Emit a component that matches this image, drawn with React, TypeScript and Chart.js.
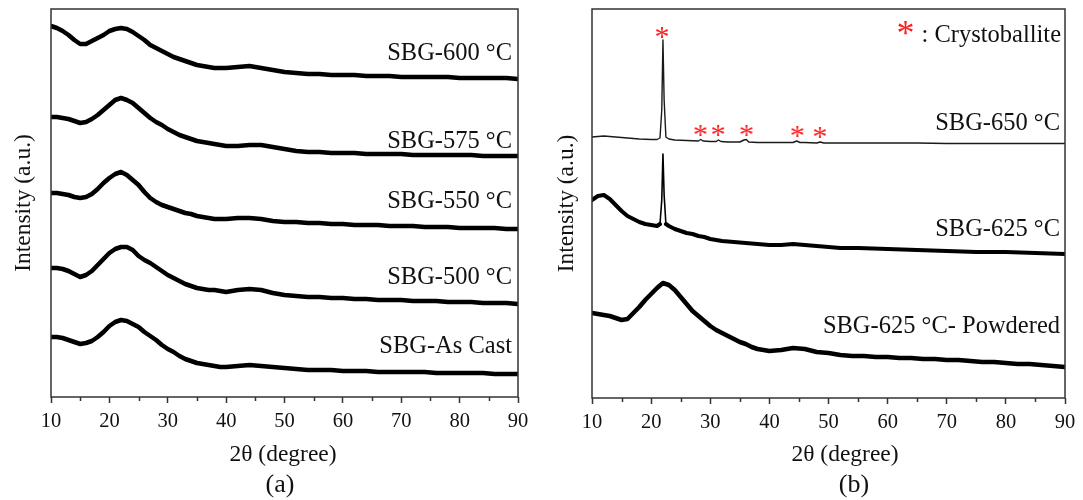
import React, { useEffect, useRef } from 'react';
import { Chart, registerables } from 'chart.js';

Chart.register(...registerables);

// ---------- data ----------
const anglesBroad = [
  10, 11, 12, 13, 14, 15, 16, 17, 18, 19, 20, 21, 22, 23, 24, 25, 26, 27, 28, 29, 30,
  31, 32, 33, 34, 35, 36, 37, 38, 39, 40, 42, 44, 46, 48, 50, 52, 54, 56, 58, 60, 62,
  64, 66, 68, 70, 72, 74, 76, 78, 80, 82, 84, 86, 88, 90,
];

const sbg600 = [
  371, 369, 366, 362, 357, 353, 353, 356, 359, 362, 366, 368, 369, 368, 365, 361, 357, 352, 349, 346, 343,
  340, 338, 336, 334, 332, 331, 330, 329, 329, 329, 330, 331, 329, 327, 325, 324, 323, 323, 322, 322, 322,
  321, 321, 321, 320, 320, 320, 320, 320, 319, 319, 319, 319, 319, 318,
];
const sbg575 = [
  280, 280, 279, 278, 276, 274, 275, 278, 282, 287, 292, 297, 299, 297, 294, 289, 284, 279, 275, 272, 268,
  265, 262, 260, 258, 256, 255, 254, 253, 252, 251, 251, 252, 252, 250, 248, 246, 245, 245, 244, 244, 244,
  243, 243, 243, 243, 242, 242, 242, 242, 242, 242, 241, 241, 241, 241,
];
const sbg550 = [
  204, 204, 203, 202, 200, 199, 200, 203, 208, 214, 219, 223, 225, 222, 217, 212, 205, 199, 195, 192, 190,
  188, 186, 184, 183, 181, 180, 179, 178, 178, 178, 179, 179, 178, 176, 175, 175, 174, 174, 173, 173, 172,
  172, 172, 171, 171, 171, 170, 170, 170, 169, 169, 169, 169, 168, 168,
];
const sbg500 = [
  129, 129, 128, 126, 123, 120, 122, 126, 132, 138, 144, 148, 150, 150, 147, 141, 137, 134, 130, 126, 122,
  119, 116, 113, 111, 109, 108, 107, 107, 106, 105, 107, 108, 107, 104, 102, 101, 100, 100, 99, 99, 98,
  98, 97, 97, 97, 96, 96, 96, 95, 95, 95, 94, 94, 94, 93,
];
const sbgAsCast = [
  60, 60, 59, 57, 55, 53, 54, 56, 60, 65, 71, 75, 77, 76, 73, 70, 65, 61, 57, 52, 48,
  45, 41, 38, 36, 34, 33, 32, 31, 30, 30, 31, 32, 31, 30, 29, 28, 27, 27, 27, 26, 26,
  26, 25, 25, 25, 25, 25, 24, 24, 24, 24, 24, 23, 23, 23,
];

const angles650 = [
  10, 12, 14, 16, 18, 20, 21, 21.5, 21.8, 22.0, 22.2, 22.5, 23, 24, 26, 28, 28.4, 28.8, 30, 31, 31.4,
  31.8, 33, 35, 35.7, 36.1, 36.5, 38, 40, 42, 44, 44.6, 45.2, 46, 48, 48.6, 49.2, 50, 55, 60, 65, 70,
  75, 80, 85, 90,
];
const sbg650 = [
  261, 262, 261, 260, 259, 258.5, 258.5, 260, 288, 358, 298, 261, 259, 258, 257.5, 257, 258.5, 257, 256.5, 256.5, 258,
  256.5, 256, 256, 258, 258.5, 256, 255.5, 255.5, 255.5, 255.5, 257, 255.5, 255.5, 255, 256, 255, 255, 255, 255, 255, 254.5,
  254.5, 254.5, 254.5, 254.5,
];

const angles625 = [
  10, 11, 12, 13, 14, 15, 16, 17, 18, 19, 20, 21, 21.5, 21.8, 22.0, 22.2, 22.5, 23, 24, 25, 26, 27, 28,
  29, 30, 32, 34, 36, 38, 40, 42, 44, 46, 48, 50, 52, 55, 60, 65, 70, 75, 80, 85, 90,
];
const sbg625 = [
  198, 202, 203, 199, 193, 187, 182, 179, 176, 174, 173, 172, 174, 198, 244, 203, 174, 172, 169, 167, 165, 164, 162,
  161, 159, 157, 156, 155, 154, 153, 153, 154, 153, 152, 151, 150, 150, 149, 148, 147, 146, 146, 145, 144,
];
const sbg625Powdered = [
  85, 84, 83, 82, 80, 78, 79, 85, 91, 98, 104, 110, 115, 113, 108, 101, 94, 87, 82, 77, 72,
  68, 65, 62, 59, 56, 54, 51, 49, 48, 47, 48, 50, 49, 46, 45, 43, 42, 42, 41, 41, 40,
  40, 39, 39, 38, 38, 37, 36, 36, 35, 34, 34, 33, 32, 31,
];

const starAngles = [22.0, 28.5, 31.5, 36.3, 44.9, 48.7];
const starLevels = [366, 268, 268, 268, 267, 266];

const leftLabels = ['SBG-600 °C', 'SBG-575 °C', 'SBG-550 °C', 'SBG-500 °C', 'SBG-As Cast'];
const leftLabelLevels = [337, 249, 189, 113, 44];
const rightLabels = ['SBG-650 °C', 'SBG-625 °C', 'SBG-625 °C- Powdered'];
const rightLabelLevels = [268, 162, 65];

const majorTicks = [10, 20, 30, 40, 50, 60, 70, 80, 90];
const minorTicks = [15, 25, 35, 45, 55, 65, 75, 85];

// sharp crystalline reflection range drawn as a thin trace
const sharpPeakRange = [21.4, 22.6];

const xTitle = '2θ (degree)';
const yTitle = 'Intensity (a.u.)';
const legendText = ': Crystoballite';

// ---------- helpers ----------
const SERIF = '"Liberation Serif", "Times New Roman", serif';
const INK = '#111';
const RED = '#ff1e1e';

function pts(xs: number[], ys: number[]) {
  return xs.map((x, i) => ({ x, y: ys[i] }));
}

function drawCenteredGlyph(ctx: CanvasRenderingContext2D, glyph: string, cx: number, cy: number) {
  ctx.textAlign = 'left';
  ctx.textBaseline = 'alphabetic';
  const m = ctx.measureText(glyph);
  const x = cx - (m.actualBoundingBoxRight - m.actualBoundingBoxLeft) / 2 + m.actualBoundingBoxLeft;
  const y = cy + (m.actualBoundingBoxAscent - m.actualBoundingBoxDescent) / 2;
  ctx.fillText(glyph, x, y);
}

function makeStarImage(size: number, fontPx: number) {
  const c = document.createElement('canvas');
  c.width = size;
  c.height = size;
  const g = c.getContext('2d')!;
  g.fillStyle = RED;
  g.font = `${fontPx}px ${SERIF}`;
  drawCenteredGlyph(g, '*', size / 2, size / 2);
  return c;
}

type PanelCfg = {
  labels: string[];
  levels: number[];
  labelInset: number;
  titleX: number;
  titleY: number;
  letter: string;
  letterX: number;
  letterY: number;
  legend: boolean;
};

function makeDecor(cfg: PanelCfg) {
  return {
    id: 'panelDecor',
    afterDraw(chart: any) {
      const { ctx, chartArea: a, scales } = chart;
      const xs = scales.x;
      const ys = scales.y;
      ctx.save();
      ctx.strokeStyle = '#333';
      ctx.lineWidth = 1.5;
      ctx.strokeRect(a.left, a.top, a.right - a.left, a.bottom - a.top);
      ctx.beginPath();
      for (const v of minorTicks) {
        const px = Math.round(xs.getPixelForValue(v)) + 0.5;
        ctx.moveTo(px, a.bottom);
        ctx.lineTo(px, a.bottom + 4);
      }
      ctx.stroke();
      ctx.fillStyle = INK;
      ctx.font = `24.5px ${SERIF}`;
      ctx.textAlign = 'right';
      ctx.textBaseline = 'alphabetic';
      cfg.labels.forEach((t, i) => {
        ctx.fillText(t, a.right - cfg.labelInset, ys.getPixelForValue(cfg.levels[i]));
      });
      ctx.textAlign = 'center';
      ctx.textBaseline = 'middle';
      ctx.font = `23.5px ${SERIF}`;
      ctx.fillText(xTitle, cfg.titleX, cfg.titleY);
      ctx.font = `26px ${SERIF}`;
      ctx.fillText(cfg.letter, cfg.letterX, cfg.letterY);
      if (cfg.legend) {
        ctx.font = `24.5px ${SERIF}`;
        ctx.textAlign = 'right';
        ctx.textBaseline = 'alphabetic';
        const tx = a.right - 4;
        const base = a.top + 32.5;
        ctx.fillText(legendText, tx, base);
        const w = ctx.measureText(legendText).width;
        ctx.fillStyle = RED;
        ctx.font = `36px ${SERIF}`;
        drawCenteredGlyph(ctx, '*', tx - w - 15, a.top + 19);
      }
      ctx.restore();
    },
  };
}

function baseOptions(padRight: number, xHeight: number, yMax: number, yTitlePad: number) {
  return {
    responsive: false,
    animation: false as const,
    events: [],
    layout: { padding: { left: 0, right: padRight, top: 9, bottom: 0 } },
    plugins: { legend: { display: false }, tooltip: { enabled: false } },
    elements: { point: { radius: 0 }, line: { tension: 0 } },
    scales: {
      x: {
        type: 'linear' as const,
        position: 'bottom' as const,
        min: 10,
        max: 90,
        afterBuildTicks: (s: any) => {
          s.ticks = majorTicks.map((v) => ({ value: v }));
        },
        afterFit: (s: any) => {
          s.height = xHeight;
        },
        ticks: {
          color: INK,
          font: { family: SERIF, size: 20.5 },
          padding: 6,
          maxRotation: 0,
          autoSkip: false,
        },
        grid: {
          drawOnChartArea: false,
          drawTicks: true,
          tickLength: 6,
          tickColor: '#333',
          tickWidth: 1.5,
        },
        border: { display: false },
      },
      y: {
        type: 'linear' as const,
        position: 'left' as const,
        min: 0,
        max: yMax,
        afterFit: (s: any) => {
          s.width = 51;
        },
        ticks: { display: false },
        grid: { display: false, drawTicks: false },
        border: { display: false },
        title: {
          display: true,
          text: yTitle,
          color: INK,
          font: { family: SERIF, size: 23.5 },
          padding: { top: yTitlePad, bottom: 0 },
        },
      },
    },
  };
}

function noisy(label: string, xs: number[], ys: number[], width: number) {
  return {
    label,
    data: pts(xs, ys),
    borderColor: '#000',
    backgroundColor: '#000',
    borderWidth: width,
    borderJoinStyle: 'round' as const,
    borderCapStyle: 'round' as const,
    pointRadius: 0,
    fill: false,
  };
}

function LeftPanel() {
  const ref = useRef<HTMLCanvasElement>(null);
  useEffect(() => {
    const chart = new Chart(ref.current!, {
      type: 'line',
      data: {
        datasets: [
          noisy('SBG-600 °C', anglesBroad, sbg600, 4.5),
          noisy('SBG-575 °C', anglesBroad, sbg575, 4.5),
          noisy('SBG-550 °C', anglesBroad, sbg550, 4.5),
          noisy('SBG-500 °C', anglesBroad, sbg500, 4.5),
          noisy('SBG-As Cast', anglesBroad, sbgAsCast, 4.5),
        ],
      },
      options: baseOptions(23, 103, 388, 10) as any,
      plugins: [
        makeDecor({
          labels: leftLabels,
          levels: leftLabelLevels,
          labelInset: 6,
          titleX: 283,
          titleY: 455,
          letter: '(a)',
          letterX: 280,
          letterY: 485,
          legend: false,
        }),
      ],
    });
    return () => chart.destroy();
  }, []);
  return (
    <canvas
      ref={ref}
      width={541}
      height={500}
      style={{ position: 'absolute', left: 0, top: 0, width: 541, height: 500 }}
    />
  );
}

function RightPanel() {
  const ref = useRef<HTMLCanvasElement>(null);
  useEffect(() => {
    const star = makeStarImage(20, 30);
    const inPeak = (c: any) =>
      c.p0.parsed.x >= sharpPeakRange[0] && c.p1.parsed.x <= sharpPeakRange[1];
    const chart = new Chart(ref.current!, {
      type: 'line',
      data: {
        datasets: [
          {
            label: 'SBG-650 °C',
            data: pts(angles650, sbg650),
            borderColor: '#1a1a1a',
            borderWidth: 1.4,
            borderJoinStyle: 'round',
            pointRadius: 0,
            fill: false,
          },
          {
            ...noisy('SBG-625 °C', angles625, sbg625, 4),
            segment: {
              borderWidth: (c: any) => (inPeak(c) ? 1.6 : 4),
            },
          },
          noisy('SBG-625 °C- Powdered', anglesBroad, sbg625Powdered, 4.5),
          {
            label: 'Crystoballite',
            data: pts(starAngles, starLevels),
            showLine: false,
            pointStyle: star,
            pointRadius: 5,
            borderColor: RED,
            backgroundColor: RED,
          },
        ],
      },
      options: baseOptions(18, 102, 389, 12) as any,
      plugins: [
        makeDecor({
          labels: rightLabels,
          levels: rightLabelLevels,
          labelInset: 5,
          titleX: 304,
          titleY: 455,
          letter: '(b)',
          letterX: 313,
          letterY: 485,
          legend: true,
        }),
      ],
    });
    return () => chart.destroy();
  }, []);
  return (
    <canvas
      ref={ref}
      width={542}
      height={500}
      style={{ position: 'absolute', left: 541, top: 0, width: 542, height: 500 }}
    />
  );
}

export default function App() {
  return (
    <div
      style={{
        position: 'fixed',
        left: 0,
        top: 0,
        width: 1083,
        height: 500,
        background: '#fff',
        overflow: 'hidden',
      }}
    >
      <LeftPanel />
      <RightPanel />
    </div>
  );
}
